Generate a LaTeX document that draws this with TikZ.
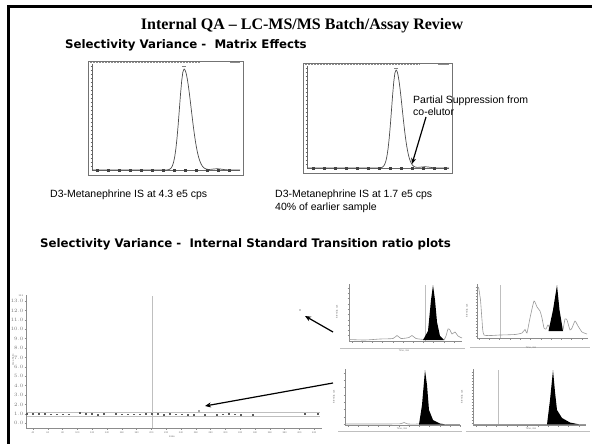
\documentclass[tikz,border=0pt]{standalone}
\usepackage{fontspec}
\setmainfont{Liberation Sans}
\newfontfamily\titlefont{Liberation Serif}
\newfontfamily\headfont{DejaVu Sans}
\usetikzlibrary{arrows.meta}
\begin{document}
\begin{tikzpicture}[x=1pt,y=-1pt,
  frameline/.style={line width=2.5pt,black},
  titletext/.style={font=\titlefont\bfseries\fontsize{16}{18}\selectfont,inner sep=0pt},
  headtext/.style={font=\headfont\bfseries\fontsize{11.8}{14}\selectfont,inner sep=0pt},
  captext/.style={font=\fontsize{10.5}{12.5}\selectfont,inner sep=0pt,align=left},
  chrombox/.style={draw=black!55,line width=0.6pt},
  chromtrace/.style={draw=black!70,line width=0.7pt},
  axisg/.style={draw=black!45,line width=0.45pt},
  faintg/.style={draw=black!25,line width=0.5pt},
  traceg/.style={draw=black!40,line width=0.6pt},
  tinylab/.style={font=\fontsize{2.4}{2.6}\selectfont,text=black!55,inner sep=0pt},
  arr/.style={-{Stealth[length=6pt,width=5pt]},line width=1.2pt,black},
  ptmark/.style={fill=black!65}
]
\useasboundingbox (0,0) rectangle (592,444);
\fill[white] (0,0) rectangle (592,444);
% slide frame (top and left edges)
\draw[frameline] (8.5,444) -- (8.5,6.3) -- (592,6.3);

% headings
\node[titletext,anchor=base] (title) at (302,30) {Internal QA – LC-MS/MS Batch/Assay Review};
\node[headtext,anchor=base west] (head1) at (65,49) {Selectivity Variance -\ \ Matrix Effects};
\node[headtext,anchor=base west] (head2) at (40,247) {Selectivity Variance -\ \ Internal Standard Transition ratio plots};

% ---------- chromatogram 1 ----------
\draw[chrombox] (88,61) rectangle (243,175);
\draw[black!45,line width=0.8pt,dash pattern=on 2pt off 1pt] (90,62.5) -- (200,62.5);
\draw[black!45,line width=0.8pt] (230,62.5) -- (240,62.5);
\foreach \yy in {66,70,...,166} \draw[black!60,line width=0.4pt] (90.5,\yy) -- (93,\yy);
\draw[black!60,line width=0.4pt] (92,64) -- (92,170);
\draw[black!60,line width=0.4pt] (92,170) -- (240,170);
\foreach \xx in {97,108,...,233} \fill[black!75] (\xx-1.5,169) rectangle (\xx+1.5,171.5);
\draw[chromtrace] plot[domain=92:184,samples=80] (\x,{170-101*exp(-((\x-184)/4.6)^2/2)});
\draw[chromtrace] plot[domain=184:240,samples=80] (\x,{170-101*exp(-((\x-184)/7.2)^2/2)-1.2*exp(-((\x-217)/5)^2/2)});
\draw[black!50,line width=0.6pt] (182,66.5) -- (186,66.5);

% ---------- chromatogram 2 ----------
\draw[chrombox] (303,63) rectangle (452,173);
\draw[black!45,line width=0.8pt,dash pattern=on 2pt off 1pt] (305,64.5) -- (420,64.5);
\draw[black!45,line width=0.8pt] (438,64.5) -- (449,64.5);
\foreach \yy in {68,72,...,164} \draw[black!60,line width=0.4pt] (305.5,\yy) -- (308,\yy);
\draw[black!60,line width=0.4pt] (307,66) -- (307,168);
\draw[black!60,line width=0.4pt] (307,168) -- (449,168);
\foreach \xx in {313,324,...,445} \fill[black!75] (\xx-1.5,167) rectangle (\xx+1.5,169.5);
\draw[chromtrace] plot[domain=307:396,samples=80] (\x,{168-98*exp(-((\x-396)/4.4)^2/2)});
\draw[chromtrace] plot[domain=396:449,samples=80] (\x,{168-98*exp(-((\x-396)/6.2)^2/2)-1.2*exp(-((\x-425)/5)^2/2)});
\draw[black!50,line width=0.6pt] (394,68) -- (398,68);

% captions
\node[captext,anchor=base west] (cap1) at (50,197) {D3-Metanephrine IS at 4.3 e5 cps};
\node[captext,anchor=base west] (cap2) at (275,197) {D3-Metanephrine IS at 1.7 e5 cps};
\node[captext,anchor=base west] (cap3) at (275,210.5) {40\% of earlier sample};
\node[captext,anchor=base west] (supp) at (413,103) {Partial Suppression from};
\node[captext,anchor=base west] (coel) at (413,115) {co-elutor};
\coordinate (suppstart) at (426,117);
\coordinate (supptip) at (412,164);
\draw[arr] (suppstart) -- (supptip);

% ---------- IS ratio plot ----------
\draw[faintg] (152,296) -- (152,428);
\draw[faintg] (26,412.5) -- (320,412.5);
\draw[faintg] (26,416.5) -- (320,416.5);
\draw[axisg] (26,295) -- (26,428) -- (322,428);
\foreach \k in {0,...,13} {
  \draw[axisg] (24.5,{301+9.4*\k}) -- (26,{301+9.4*\k});
  \pgfmathsetmacro{\lab}{13-\k}
  \node[tinylab,anchor=east] at (23.5,{301+9.4*\k}) {\pgfmathprintnumber[fixed,precision=1,fixed zerofill]{\lab}};
}
\node[tinylab,anchor=east] at (23.5,295.5) {13.5};
\node[tinylab,rotate=90] at (13,360) {Area Ratio};
\foreach \k in {0,...,19} {
  \draw[axisg] ({33+14.8*\k},428) -- ({33+14.8*\k},430);
  \pgfmathtruncatemacro{\lab}{40+20*\k}
  \node[tinylab] at ({33+14.8*\k},433) {\lab};
}
\foreach \k in {0,...,39} \draw[axisg] ({29+7.4*\k},428) -- ({29+7.4*\k},429.2);
\node[tinylab] at (172,437) {Index};
\foreach \xx/\yy in {27/414.3,33/413.7,39/414,45/414.2,51/414.4,57/414.4,63/414.4,69/414.4,
  80/412.8,86/413.8,92/414,98/414.6,104/414.3,116/414.2,122/414.4,128/414.4,134/414.4,140/414.4,
  146/414.2,152/414.3,158/414,164/414.6,170/414,176/414.4,182/414.4,188/414.8,194/414.8,
  205/415,217/415,223/414.4,229/414.3,235/414.4,241/414.6,253/414.6,305/414.2,318/414.2}
  \fill[ptmark] (\xx-0.9,\yy-0.9) rectangle (\xx+0.9,\yy+0.9);
\fill[black!35] (198.2,410.2) rectangle (199.8,411.8);
\coordinate (outlier) at (205,406);
\fill[black!40] (300,310) circle (0.8);
\coordinate (dottip) at (305,316);

% ---------- right chromatograms ----------
% top-left
\draw[axisg] (349,284) -- (349,341) -- (462,341);
\draw[faintg] (340,348) -- (465,348);
\draw[faintg] (425,285) -- (425,341);
\foreach \k in {0,...,9} \draw[axisg] (347.5,{288+5.3*\k}) -- (349,{288+5.3*\k});
\foreach \k in {0,...,10} \draw[axisg] ({352+10.2*\k},341) -- ({352+10.2*\k},342.5);
\node[tinylab] at (404,350.5) {Time, min};
\node[tinylab,rotate=90] at (337,312) {Intensity, cps};
\draw[traceg] plot[smooth,tension=0.4] coordinates {(349,339.5) (365,340) (380,339) (393,338.5) (397,335.5) (401,338.5) (409,337.5) (412,335.5) (416,338.5) (424,339.5)};
\fill[black] (423,340) -- (428,331) -- (431,300) -- (433,285) -- (435,300) -- (437,322) -- (440,336) -- (444,340) -- cycle;
\draw[traceg] plot[smooth,tension=0.4] coordinates {(444,340) (446,336) (448,329) (450,330) (452,334) (455,332) (458,336) (462,338)};
% top-right
\draw[axisg] (477,284) -- (477,338) -- (588,338);
\draw[faintg] (470,347) -- (590,347);
\draw[faintg] (500,285) -- (500,338);
\foreach \k in {0,...,16} \draw[axisg] (475.5,{287+3.1*\k}) -- (477,{287+3.1*\k});
\foreach \k in {0,...,10} \draw[axisg] ({479+10.3*\k},338) -- ({479+10.3*\k},339.5);
\node[tinylab] at (531,347.5) {Time, min};
\node[tinylab,rotate=90] at (467,311) {Intensity, cps};
\draw[traceg] plot[smooth,tension=0.3] coordinates {(478.5,287) (480.5,300) (482,320) (484,335) (500,335) (515,334.5) (522,333) (525,329.5) (527,333) (530,318) (534,301) (537,307) (540,311) (542,318) (544,328) (546,329) (548,325) (550,329)};
\fill[black] (548.5,331) -- (553,310) -- (557,285) -- (559.5,310) -- (563,331) -- cycle;
\draw[traceg] plot[smooth,tension=0.3] coordinates {(563,330) (565,319) (567,320) (570,330) (572,328) (575,321) (578,326) (582,332) (587,334)};
% bottom-left
\draw[axisg] (345,369) -- (345,425) -- (461,425);
\draw[faintg] (338,431) -- (462,431);
\foreach \k in {0,...,7} \draw[axisg] (343.5,{373+7.3*\k}) -- (345,{373+7.3*\k});
\foreach \k in {0,...,11} \draw[axisg] ({348+10.2*\k},425) -- ({348+10.2*\k},426.5);
\node[tinylab] at (402,429) {Time, min};
\node[tinylab,rotate=90] at (334,397) {Intensity, cps};
\draw[traceg] plot[smooth,tension=0.4] coordinates {(345,424) (380,424) (400,423.8) (404,422.5) (408,424) (420,424)};
\fill[black] (419,424.5) -- (422,405) -- (425,370) -- (427,385) -- (429,410) -- (433,420) -- (440,423.5) -- (446,424.5) -- cycle;
\draw[traceg] (446,424) -- (460,424);
% bottom-right
\draw[axisg] (473,369) -- (473,425) -- (586,425);
\draw[faintg] (466,431) -- (590,431);
\draw[faintg] (498,370) -- (498,425);
\foreach \k in {0,...,17} \draw[axisg] (471.5,{372+3.0*\k}) -- (473,{372+3.0*\k});
\foreach \k in {0,...,10} \draw[axisg] ({476+10.3*\k},425) -- ({476+10.3*\k},426.5);
\node[tinylab] at (531,429) {Time, min};
\node[tinylab,rotate=90] at (462,397) {Intensity, cps};
\draw[traceg] (473,424) -- (547,424);
\fill[black] (547,424.5) -- (550,400) -- (553,370) -- (555,392) -- (557,410) -- (562,418) -- (570,422.5) -- (580,424.5) -- cycle;
\draw[traceg] (580,424) -- (586,424);

% arrows from chromatograms to ratio plot
\coordinate (tlstart) at (333,332);
\coordinate (blstart) at (333,383);
\draw[arr] (tlstart) -- (dottip);
\draw[arr] (blstart) -- (outlier);
\end{tikzpicture}
\end{document}
